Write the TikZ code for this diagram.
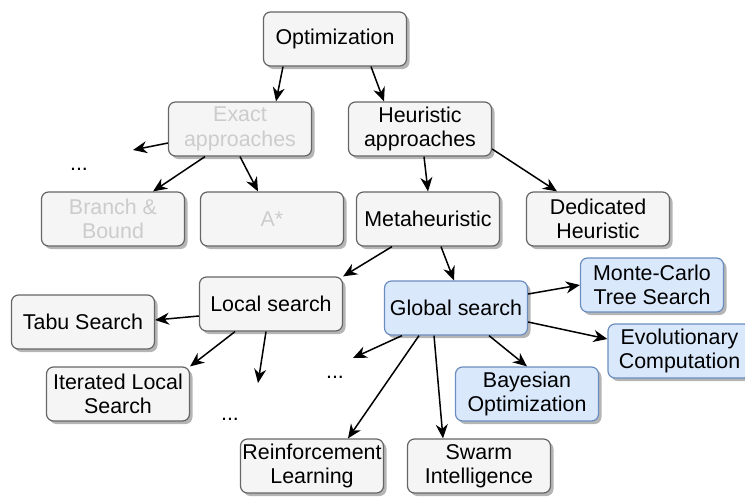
\documentclass[tikz,border=0pt]{standalone}
\usepackage{fontspec}
\setmainfont{Liberation Sans}
\usetikzlibrary{shadows,arrows.meta}
\definecolor{boxfill}{HTML}{F5F5F5}
\definecolor{boxline}{HTML}{666666}
\definecolor{bluefill}{HTML}{DAE8FC}
\definecolor{blueline}{HTML}{6C8EBF}
\definecolor{fadetext}{HTML}{CCCCCC}
\definecolor{shadowc}{HTML}{B5B5B5}
\tikzset{
  box/.style={rectangle, rounded corners=7pt, draw=boxline, fill=boxfill, line width=1.2pt,
    minimum width=143pt, minimum height=54pt, inner sep=0pt, align=center,
    font=\fontsize{21.4}{24.5}\selectfont,
    drop shadow={shadow xshift=3pt, shadow yshift=-3pt, fill=shadowc, opacity=1}},
  bluebox/.style={box, draw=blueline, fill=bluefill},
  fadebox/.style={box, text=fadetext},
  dotsnode/.style={font=\fontsize{21.4}{24.5}\selectfont, inner sep=0pt},
  arr/.style={line width=1.5pt, -{Stealth[length=14pt,width=12pt,inset=4.5pt]}}
}
\begin{document}
\begin{tikzpicture}[x=1pt,y=-1pt]
\useasboundingbox (0,0) rectangle (745,496);
\node[box] (opt) at (335,39) {Optimization};
\node[fadebox] (exact) at (240,129) {Exact\\approaches};
\node[box] (heur) at (420,129) {Heuristic\\approaches};
\node[fadebox] (bb) at (113,219) {Branch \&\\Bound};
\node[fadebox] (astar) at (272,219) {A*};
\node[box] (meta) at (428,219) {Metaheuristic};
\node[box] (ded) at (598,219) {Dedicated\\Heuristic};
\node[box] (local) at (271,304) {Local search};
\node[box] (tabu) at (83,322) {Tabu Search};
\node[box] (ils) at (118,394) {Iterated Local\\Search};
\node[bluebox] (glob) at (456,308) {Global search};
\node[bluebox] (mcts) at (652,285) {Monte-Carlo\\Tree Search};
\node[bluebox] (evo) at (679.5,351) {Evolutionary\\Computation};
\node[bluebox] (bayes) at (527,394) {Bayesian\\Optimization};
\node[box] (rl) at (312,466) {Reinforcement\\Learning};
\node[box] (swarm) at (479,466) {Swarm\\Intelligence};
\node[dotsnode] (d1) at (79,169) {...};
\node[dotsnode] (d2) at (335,377) {...};
\node[dotsnode] (d3) at (230,419) {...};
\coordinate (e1) at (133,150);
\coordinate (e2) at (258,383);
\coordinate (e3) at (353,358);
\draw[arr] ([xshift=-52pt]opt.south) -- ([xshift=36pt]exact.north);
\draw[arr] ([xshift=36pt]opt.south) -- ([xshift=-36pt]heur.north);
\draw[arr] ([yshift=-14pt]exact.west) -- (e1);
\draw[arr] ([xshift=-35pt]exact.south) -- ([xshift=40pt]bb.north);
\draw[arr] (exact.south) -- ([xshift=-14pt]astar.north);
\draw[arr] ([xshift=4pt]heur.south) -- (meta.north);
\draw[arr] ([yshift=-20pt]heur.east) -- ([xshift=-41pt]ded.north);
\draw[arr] ([xshift=-36pt]meta.south) -- (local.north east);
\draw[arr] ([xshift=13pt]meta.south) -- ([xshift=-2pt]glob.north);
\draw[arr] ([yshift=-12pt]local.west) -- ([yshift=2pt]tabu.east);
\draw[arr] ([xshift=-36pt]local.south) -- (ils.north east);
\draw[arr] ([xshift=-5pt]local.south) -- (e2);
\draw[arr] ([xshift=-54pt]glob.south) -- (e3);
\draw[arr] ([xshift=-37pt]glob.south) -- ([xshift=36pt]rl.north);
\draw[arr] ([xshift=-22pt]glob.south) -- ([xshift=-36pt]swarm.north);
\draw[arr] ([xshift=33pt]glob.south) -- (bayes.north);
\draw[arr] ([yshift=14pt]glob.east) -- (mcts.west);
\draw[arr] ([yshift=-14pt]glob.east) -- ([yshift=12pt]evo.west);
\end{tikzpicture}
\end{document}
